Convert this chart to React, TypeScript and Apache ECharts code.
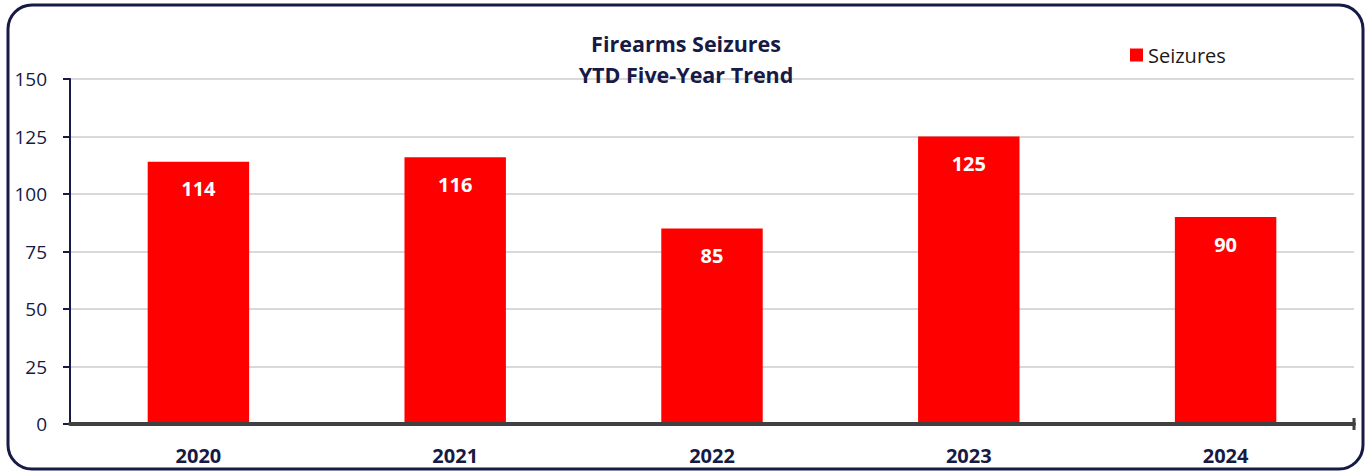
import React, { useEffect, useRef } from "react";
import * as echarts from "echarts";

const categories = ["2020", "2021", "2022", "2023", "2024"];
const seizures = [114, 116, 85, 125, 90];
const titleLines = ["Firearms Seizures", "YTD Five-Year Trend"];
const seriesName = "Seizures";

const NAVY = "#161a45";
const FONT = "'Open Sans', Lato, sans-serif";

export default function App() {
  const ref = useRef<HTMLDivElement>(null);
  useEffect(() => {
    if (!ref.current) return;
    const chart = echarts.init(ref.current, undefined, { renderer: "svg" });
    chart.setOption({
      animation: false,
      backgroundColor: "#ffffff",
      textStyle: { fontFamily: FONT },
      title: {
        text: titleLines.join("\n"),
        left: 681,
        top: 23,
        padding: 5,
        textAlign: "center",
        textStyle: { fontSize: 21.5, fontWeight: "bold", color: NAVY, lineHeight: 31, fontFamily: FONT },
        z: 10,
      },
      legend: {
        left: 1125,
        top: 40,
        itemWidth: 13,
        itemHeight: 13,
        itemGap: 6,
        icon: "rect",
        textStyle: { fontSize: 20, color: "#1a1a1a", fontFamily: FONT },
        data: [seriesName],
      },
      grid: { left: 70, right: 16, top: 79, bottom: 49 },
      xAxis: {
        type: "category",
        data: categories,
        axisLine: { lineStyle: { color: "#404040", width: 4 } },
        axisTick: { alignWithLabel: true, length: 6, lineStyle: { color: "#404040", width: 3 } },
        axisLabel: { margin: 21, fontSize: 20, fontWeight: "bold", color: NAVY, fontFamily: FONT },
        z: 5,
      },
      yAxis: {
        type: "value",
        min: 0,
        max: 150,
        interval: 25,
        axisLine: { show: true, lineStyle: { color: NAVY, width: 2 } },
        axisTick: { show: true, length: 7, lineStyle: { color: NAVY, width: 2 } },
        axisLabel: { margin: 23, fontSize: 19, color: NAVY, fontFamily: FONT },
        splitLine: { lineStyle: { color: "#d9d9d9", width: 2 } },
      },
      series: [
        {
          name: seriesName,
          type: "bar",
          data: seizures,
          barWidth: "39.5%",
          itemStyle: { color: "#ff0000" },
          label: {
            show: true,
            position: "insideTop",
            distance: 17,
            color: "#ffffff",
            fontSize: 20,
            fontWeight: "bold",
            fontFamily: FONT,
          },
        },
      ],
      graphic: [
        {
          type: "rect",
          shape: { x: 8, y: 5, width: 1355, height: 464, r: 24 },
          style: { fill: "none", stroke: NAVY, lineWidth: 3 },
          silent: true,
          z: 100,
        },
        {
          type: "line",
          shape: { x1: 1354, y1: 418, x2: 1354, y2: 430 },
          style: { stroke: "#404040", lineWidth: 3 },
          z: 100,
        },
      ],
    });
    return () => chart.dispose();
  }, []);
  return (
    <div
      ref={ref}
      style={{ position: "fixed", left: 0, top: 0, width: 1370, height: 473 }}
    />
  );
}
